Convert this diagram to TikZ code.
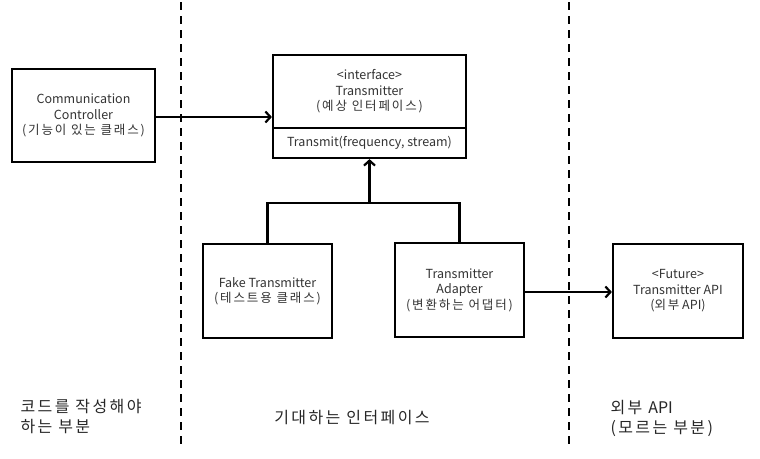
\documentclass[tikz,border=0pt]{standalone}
\usepackage{fontspec}
\setmainfont{Noto Sans CJK KR}
\newfontfamily\krwide[LetterSpace=15]{Noto Sans CJK KR}
\newcommand\latin[1]{{\rmfamily #1}}
\usetikzlibrary{arrows.meta}
\begin{document}
\begin{tikzpicture}[x=1pt,y=-1pt,
    cls/.style={draw=black,line width=2.2pt,align=center,inner sep=2pt,
      font=\fontsize{12.5}{15.5}\selectfont,text=black!80},
    link/.style={line width=2.2pt,-{Straight Barb[length=5pt,width=11pt]}},
    part/.style={align=left,anchor=west,font=\krwide\fontsize{16}{20}\selectfont,text=black!85}]
  \useasboundingbox (0,0) rectangle (760,458);
%  region borders
  \draw [line width=2pt,dash pattern=on 8pt off 6pt] (181,2)--(181,448);
  \draw [line width=2pt,dash pattern=on 8pt off 6pt] (569,2)--(569,448);
  % classes
  \node [cls,minimum width=143,minimum height=93] (ctrl) at (83.5,115.5)
    {Communication\\Controller\\{\krwide (기능이 있는 클래스)}};
  \node [cls,minimum width=193,minimum height=73] (iface) at (369.5,91.5)
    {<interface>\\Transmitter\\{\krwide (예상 인터페이스)}};
  \node [cls,minimum width=193,minimum height=30] (imeth) at (369.5,143)
    {Transmit(frequency, stream)};
  \node [cls,minimum width=129,minimum height=94] (fake) at (267.5,291)
    {Fake Transmitter\\{\krwide (테스트용 클래스)}};
  \node [cls,minimum width=129,minimum height=94] (adapter) at (459.5,290)
    {Transmitter\\Adapter\\{\krwide (변환하는 어댑터)}};
  \node [cls,minimum width=130,minimum height=94] (api) at (678,291)
    {<Future>\\Transmitter API\\({\krwide 외부} API)};
  \coordinate (join) at (369.5,203);
  % connectors
  \draw [link] (ctrl.east |- 0,117) -- (iface.west |- 0,117);
  \draw [line width=2.2pt] (fake.north) |- (join);
  \draw [line width=2.2pt] (adapter.north) |- (join);
  \draw [link] (join) -- (imeth.south);
  \draw [link] (adapter.east |- 0,292) -- (api.west |- 0,292);
  % region names
  \node [part] (mine) at (17,417) {코드를 작성해야\\하는 부분};
  \node [part,anchor=center] (expect) at (352,418) {기대하는 인터페이스};
  \node [part] (outer) at (607,418) {외부 \latin{API}\\(모르는 부분)};
\end{tikzpicture}
\end{document}
